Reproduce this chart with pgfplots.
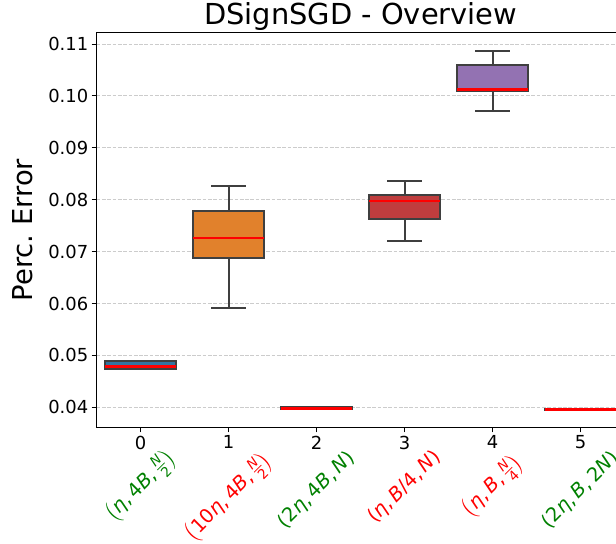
\documentclass[border=0pt]{standalone}
\usepackage{amsmath}
\usepackage{fontspec}
\setmainfont{DejaVu Sans}
\usepackage{pgfplots}
\usepgfplotslibrary{statistics}
\pgfplotsset{compat=1.18}

\definecolor{c0}{HTML}{3274A1}
\definecolor{c1}{HTML}{E1812C}
\definecolor{c2}{HTML}{3A923A}
\definecolor{c3}{HTML}{C03D3E}
\definecolor{c4}{HTML}{9372B2}
\definecolor{c5}{HTML}{845B53}
\definecolor{edge}{HTML}{3F3F3F}
\definecolor{mgreen}{HTML}{008000}
\definecolor{gridc}{HTML}{CCCCCC}

\newcommand\m[1]{\textit{#1}}
\newcommand\lbl{\fontsize{19.5}{22}\selectfont}
\newcommand\fr[2]{\frac{\text{#1}}{\text{#2}}}

\begin{document}
\begin{tikzpicture}
\useasboundingbox (0bp,0bp) rectangle (616bp,544bp);
\clip (0bp,0bp) rectangle (616bp,544bp);
% y values are given in units of 0.01 (tick labels show the real error)
\begin{axis}[
  at={(96.7bp,116.7bp)}, anchor=south west,
  width=528bp, height=394.6bp, scale only axis,
  xmin=-0.5, xmax=5.5,
  ymin=3.615, ymax=11.217,
  xtick={0,1,2,3,4,5},
  ytick={4,5,6,7,8,9,10,11},
  yticklabels={0.04,0.05,0.06,0.07,0.08,0.09,0.10,0.11},
  /pgf/number format/assume math mode=true,
  tick label style={font=\fontsize{18}{20}\selectfont},
  tick pos=left, tick align=outside,
  major tick length=5bp,
  tick style={black, line width=0.9bp},
  axis line style={line width=1.1bp},
  ymajorgrids=true,
  grid style={gridc, line width=0.8bp, dash pattern=on 3.7bp off 1.6bp},
  title={DSignSGD - Overview},
  title style={at={(axis description cs:0.5,1)}, anchor=base, yshift=2bp,
    inner sep=0pt, font=\fontsize{29}{32}\selectfont},
  ylabel={Perc.\ Error},
  every axis y label/.style={at={(axis description cs:-0.1212,0.5)},
    rotate=90, anchor=south, inner sep=0pt, font=\fontsize{27.5}{30}\selectfont},
  clip=false,
  mybox/.style={draw=edge, line width=2bp,
    boxplot/draw direction=y,
    boxplot/box extend=0.8, boxplot/whisker extend=0.4,
    boxplot/every box/.style={draw=edge, line width=2bp, fill=#1},
    boxplot/every whisker/.style={draw=edge, line width=2bp},
    boxplot/every median/.style={draw=red, line width=2.6bp}},
]
\addplot[mybox=c0, boxplot prepared={draw position=0,
  lower whisker=4.73, lower quartile=4.73, median=4.79,
  upper quartile=4.90, upper whisker=4.90}] coordinates {};
\addplot[mybox=c1, boxplot prepared={draw position=1,
  lower whisker=5.907, lower quartile=6.884, median=7.258,
  upper quartile=7.787, upper whisker=8.271}] coordinates {};
\addplot[mybox=c2, boxplot prepared={draw position=2,
  lower whisker=3.965, lower quartile=3.965, median=3.975,
  upper quartile=4.00, upper whisker=4.00}] coordinates {};
\addplot[mybox=c3, boxplot prepared={draw position=3,
  lower whisker=7.206, lower quartile=7.621, median=7.975,
  upper quartile=8.083, upper whisker=8.352}] coordinates {};
\addplot[mybox=c4, boxplot prepared={draw position=4,
  lower whisker=9.71, lower quartile=10.10, median=10.12,
  upper quartile=10.60, upper whisker=10.86}] coordinates {};
\addplot[mybox=c5, boxplot prepared={draw position=5,
  lower whisker=3.955, lower quartile=3.955, median=3.958,
  upper quartile=3.96, upper whisker=3.96}] coordinates {};

% rotated configuration labels under the tick numbers
\node[rotate=45, text=mgreen, font=\lbl] at ([yshift=-59bp]axis cs:0,3.615)
  {$\left(\text{\m{η},\,4\m{B},\,}\fr{\m{N}}{2}\right)$};
\node[rotate=45, text=red, font=\lbl] at ([yshift=-70bp]axis cs:1,3.615)
  {$\left(\text{10\m{η},\,4\m{B},\,}\fr{\m{N}}{2}\right)$};
\node[rotate=45, text=mgreen, font=\lbl] at ([yshift=-63bp]axis cs:2,3.615)
  {(2\m{η},\,4\m{B},\,\m{N})};
\node[rotate=45, text=red, font=\lbl] at ([yshift=-60bp]axis cs:3,3.615)
  {(\m{η},\,\m{B}/4,\,\m{N})};
\node[rotate=45, text=red, font=\lbl] at ([yshift=-59bp]axis cs:4,3.615)
  {$\left(\text{\m{η},\,\m{B},\,}\fr{\m{N}}{4}\right)$};
\node[rotate=45, text=mgreen, font=\lbl] at ([yshift=-63bp]axis cs:5,3.615)
  {(2\m{η},\,\m{B},\,2\m{N})};
\end{axis}
\end{tikzpicture}
\end{document}
